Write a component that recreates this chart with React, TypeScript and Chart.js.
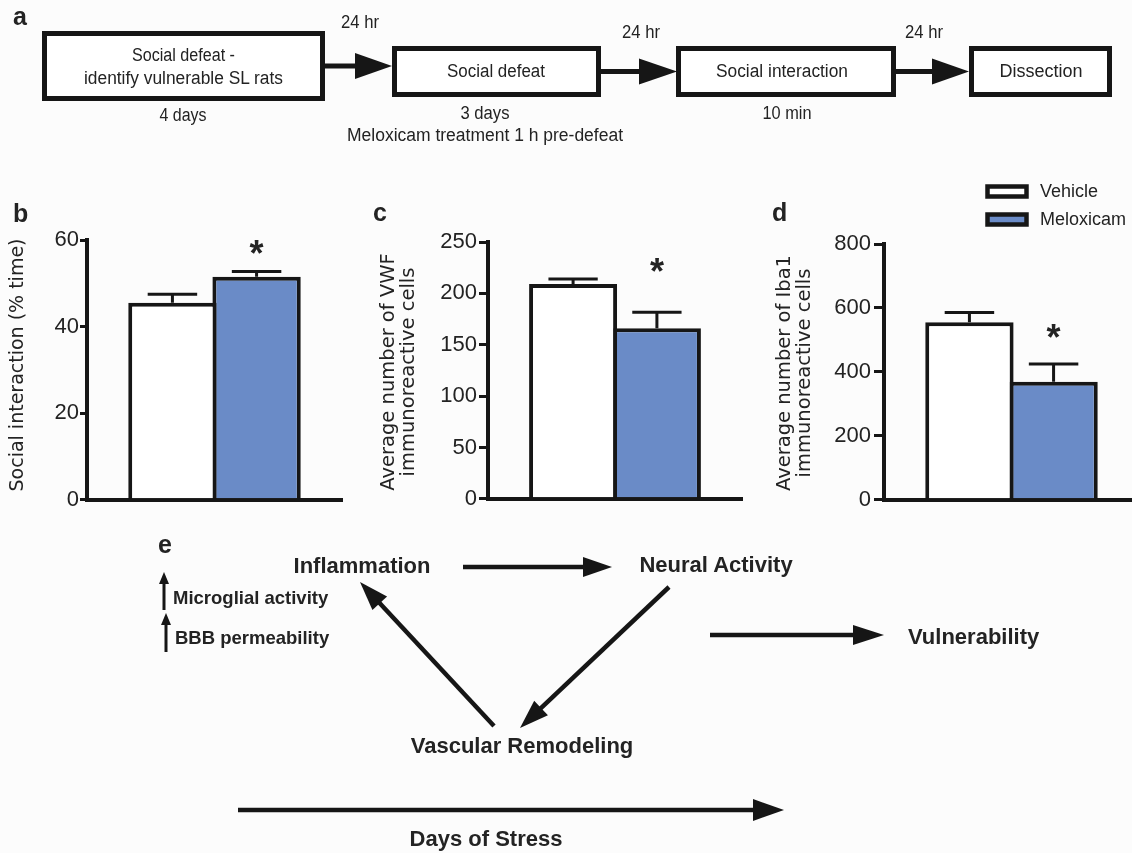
import React, { useEffect, useRef } from 'react';
import { Chart, registerables } from 'chart.js';

Chart.register(...registerables);

// ---------------- data ----------------
const groups = ['Vehicle', 'Meloxicam'];
const groupFills = ['#ffffff', '#6a8bc7'];

const socialMeans = [45.5, 51.5];
const socialSem = [2.0, 1.2];
const socialSig = [false, true];
const socialTicks = [0, 20, 40, 60];
const socialTitle = ['Social interaction (% time)'];

const vwfMeans = [209, 166];
const vwfSem = [5, 15.5];
const vwfSig = [false, true];
const vwfTicks = [0, 50, 100, 150, 200, 250];
const vwfTitle = ['Average number of VWF', 'immunoreactive cells'];

const iba1Means = [555, 369];
const iba1Sem = [31, 56];
const iba1Sig = [false, true];
const iba1Ticks = [0, 200, 400, 600, 800];
const iba1Title = ['Average number of Iba1', 'immunoreactive cells'];

// ---------------- plugins ----------------
const INK = '#161616';
const TEXT = '#232323';

const errorBarPlugin = {
  id: 'errorBars',
  afterDatasetsDraw(chart: any, _args: any, opts: any) {
    const { ctx } = chart;
    const y = chart.scales.y;
    chart.data.datasets.forEach((ds: any, i: number) => {
      const meta = chart.getDatasetMeta(i);
      meta.data.forEach((bar: any, j: number) => {
        const v = ds.data[j];
        const e = ds.errors[j];
        const top = y.getPixelForValue(v + e);
        const half = (bar.width * opts.capRatio) / 2;
        ctx.save();
        ctx.strokeStyle = INK;
        ctx.lineWidth = 3;
        ctx.beginPath();
        ctx.moveTo(bar.x, bar.y);
        ctx.lineTo(bar.x, top);
        ctx.moveTo(bar.x - half, top);
        ctx.lineTo(bar.x + half, top);
        ctx.stroke();
        if (ds.sig[j]) {
          ctx.fillStyle = TEXT;
          ctx.font = 'bold 36px "Liberation Sans", Arial, sans-serif';
          ctx.textAlign = 'center';
          ctx.textBaseline = 'alphabetic';
          const cy = top - opts.starGap;
          ctx.fillText('*', bar.x, cy + 18);
        }
        ctx.restore();
      });
    });
  },
};

const yTitlePlugin = {
  id: 'yTitle',
  afterDraw(chart: any, _args: any, opts: any) {
    const { ctx } = chart;
    ctx.save();
    ctx.font = opts.font;
    ctx.fillStyle = TEXT;
    ctx.textAlign = 'center';
    ctx.textBaseline = 'middle';
    (opts.lines as string[]).forEach((t, i) => {
      ctx.save();
      ctx.translate(opts.xs[i], opts.y);
      ctx.rotate(-Math.PI / 2);
      ctx.fillText(t, 0, 0);
      ctx.restore();
    });
    ctx.restore();
  },
};

type Geom = {
  left: number; top: number; width: number; height: number;
  axisW: number; padTop: number; padRight: number; padBottom: number;
  tickLen: number; tickPad: number;
  titleXs: number[]; titleY: number; titleFont: string; starGap: number;
};

function BarPanel({ means, sems, sig, ticks, title, g }: any) {
  const ref = useRef<HTMLCanvasElement>(null);
  useEffect(() => {
    const geom: Geom = g;
    const chart = new Chart(ref.current as HTMLCanvasElement, {
      type: 'bar',
      data: {
        labels: [''],
        datasets: groups.map((name, i) => ({
          label: name,
          data: [means[i]],
          errors: [sems[i]],
          sig: [sig[i]],
          backgroundColor: groupFills[i],
          borderColor: INK,
          borderWidth: 4,
          barPercentage: 1.05,
          categoryPercentage: 0.66,
        })) as any,
      },
      options: {
        animation: false,
        responsive: false,
        maintainAspectRatio: false,
        layout: { padding: { top: geom.padTop, right: geom.padRight, bottom: geom.padBottom, left: 0 } },
        plugins: {
          legend: { display: false },
          tooltip: { enabled: false },
          errorBars: { capRatio: 0.56, starGap: geom.starGap },
          yTitle: { lines: title, xs: geom.titleXs, y: geom.titleY, font: geom.titleFont },
        } as any,
        scales: {
          x: {
            grid: { display: false },
            ticks: { display: false },
            border: { display: true, color: INK, width: 4 },
            afterFit: (s: any) => { s.height = 0; },
          },
          y: {
            min: ticks[0],
            max: ticks[ticks.length - 1],
            afterBuildTicks: (s: any) => { s.ticks = ticks.map((v: number) => ({ value: v })); },
            ticks: { color: TEXT, padding: geom.tickPad, font: { family: '"Liberation Sans", Arial, sans-serif', size: 22 } },
            grid: { display: true, drawOnChartArea: false, drawTicks: true, tickLength: geom.tickLen, tickWidth: 3, tickColor: INK, lineWidth: 3, color: INK },
            border: { display: true, color: INK, width: 4 },
            afterFit: (s: any) => { s.width = geom.axisW; },
          },
        },
      } as any,
      plugins: [errorBarPlugin, yTitlePlugin],
    });
    return () => chart.destroy();
  }, []);
  return (
    <canvas
      ref={ref}
      width={g.width}
      height={g.height}
      style={{ position: 'absolute', left: g.left, top: g.top, width: g.width, height: g.height, display: 'block' }}
    />
  );
}

function Arrow({ x1, y1, x2, y2, w = 4.5, len = 28, half = 10 }: any) {
  const dx = x2 - x1, dy = y2 - y1;
  const L = Math.hypot(dx, dy);
  const ux = dx / L, uy = dy / L;
  const bx = x2 - ux * len, by = y2 - uy * len;
  const px = -uy, py = ux;
  return (
    <g>
      <line x1={x1} y1={y1} x2={bx + ux * 2} y2={by + uy * 2} stroke={INK} strokeWidth={w} />
      <polygon points={`${x2},${y2} ${bx + px * half},${by + py * half} ${bx - px * half},${by - py * half}`} fill={INK} />
    </g>
  );
}

const SANS = '"Liberation Sans", Arial, Helvetica, sans-serif';

function T({ x, y, children, size = 18, bold = false, anchor = 'middle', len }: any) {
  return (
    <text
      x={x}
      y={y}
      fontFamily={SANS}
      fontSize={size}
      fontWeight={bold ? 'bold' : 'normal'}
      fill={TEXT}
      textAnchor={anchor}
      dominantBaseline="central"
      {...(len ? { textLength: len, lengthAdjust: 'spacingAndGlyphs' } : {})}
    >
      {children}
    </text>
  );
}

export default function App() {
  const gB: Geom = {
    left: 0, top: 200, width: 360, height: 314, axisW: 87, padTop: 40, padRight: 18, padBottom: 14,
    tickLen: 7, tickPad: 1,
    titleXs: [18], titleY: 165, titleFont: '19px "DejaVu Sans", sans-serif', starGap: 24,
  };
  const gC: Geom = {
    left: 360, top: 200, width: 400, height: 314, axisW: 128, padTop: 42, padRight: 18, padBottom: 14,
    tickLen: 9, tickPad: 2,
    titleXs: [29, 49], titleY: 172, titleFont: '19.5px "DejaVu Sans", sans-serif', starGap: 46,
  };
  const gD: Geom = {
    left: 740, top: 200, width: 400, height: 316, axisW: 144, padTop: 44, padRight: 1, padBottom: 14,
    tickLen: 10, tickPad: 3,
    titleXs: [45, 65], titleY: 173, titleFont: '19.5px "DejaVu Sans", sans-serif', starGap: 32,
  };

  return (
    <div style={{ position: 'absolute', left: 0, top: 0, width: 1132, height: 853, overflow: 'hidden', background: '#fcfcfc' }}>
      <BarPanel means={socialMeans} sems={socialSem} sig={socialSig} ticks={socialTicks} title={socialTitle} g={gB} />
      <BarPanel means={vwfMeans} sems={vwfSem} sig={vwfSig} ticks={vwfTicks} title={vwfTitle} g={gC} />
      <BarPanel means={iba1Means} sems={iba1Sem} sig={iba1Sig} ticks={iba1Ticks} title={iba1Title} g={gD} />

      <svg width={1132} height={853} style={{ position: 'absolute', left: 0, top: 0, pointerEvents: 'none' }}>
        {/* panel letters */}
        {[['a', 13, 25], ['b', 13, 222], ['c', 373, 221], ['d', 772, 221], ['e', 158, 553]].map(([l, x, y]: any) => (
          <text key={l} x={x} y={y} fontFamily={SANS} fontSize={25} fontWeight="bold" fill={TEXT}>{l}</text>
        ))}

        {/* panel a: timeline */}
        <rect x={44.5} y={33.5} width={278} height={65} fill="#fff" stroke={INK} strokeWidth={5} />
        <rect x={394.5} y={48.5} width={204} height={46} fill="#fff" stroke={INK} strokeWidth={5} />
        <rect x={678.5} y={48.5} width={215} height={46} fill="#fff" stroke={INK} strokeWidth={5} />
        <rect x={971.5} y={48.5} width={138} height={46} fill="#fff" stroke={INK} strokeWidth={5} />
        <Arrow x1={325} y1={66} x2={392} y2={66} w={5} len={37} half={13} />
        <Arrow x1={601} y1={71.5} x2={677} y2={71.5} w={5} len={38} half={13} />
        <Arrow x1={896} y1={71.5} x2={969} y2={71.5} w={5} len={37} half={13} />

        <T x={183.5} y={55} len={103}>Social defeat -</T>
        <T x={183.5} y={78} len={199}>identify vulnerable SL rats</T>
        <T x={183} y={115} len={47}>4 days</T>
        <T x={360} y={22} len={38}>24 hr</T>
        <T x={496} y={71} len={98}>Social defeat</T>
        <T x={485} y={113} len={49}>3 days</T>
        <T x={485} y={135} len={276}>Meloxicam treatment 1 h pre-defeat</T>
        <T x={641} y={32} len={38}>24 hr</T>
        <T x={782} y={71} len={132}>Social interaction</T>
        <T x={787} y={113} len={49}>10 min</T>
        <T x={924} y={32} len={38}>24 hr</T>
        <T x={1041} y={71} len={83}>Dissection</T>

        {/* legend */}
        {groups.map((name, i) => (
          <g key={name}>
            <rect x={987.5} y={186.5 + i * 28} width={39} height={10} fill={groupFills[i]} stroke={INK} strokeWidth={4.5} />
            <T x={1040} y={191 + i * 28} anchor="start" size={18}>{name}</T>
          </g>
        ))}

        {/* panel e: model */}
        <T x={362} y={565} size={22} bold>Inflammation</T>
        <T x={716} y={564} size={22} bold>Neural Activity</T>
        <T x={522} y={745} size={22} bold>Vascular Remodeling</T>
        <T x={908} y={636} size={22} bold anchor="start">Vulnerability</T>
        <T x={486} y={838} size={22} bold>Days of Stress</T>
        <T x={173} y={597} size={18.5} bold anchor="start">Microglial activity</T>
        <T x={175} y={637} size={18.5} bold anchor="start">BBB permeability</T>

        <Arrow x1={164} y1={610} x2={164} y2={572} w={3} len={12} half={5} />
        <Arrow x1={166} y1={652} x2={166} y2={613} w={3} len={12} half={5} />
        <Arrow x1={463} y1={567} x2={612} y2={567} w={4.5} len={29} half={10} />
        <Arrow x1={494} y1={726} x2={360} y2={582} w={4.5} len={29} half={10} />
        <Arrow x1={669} y1={587} x2={520} y2={728} w={4.5} len={29} half={10} />
        <Arrow x1={710} y1={635} x2={884} y2={635} w={4.5} len={31} half={10} />
        <Arrow x1={238} y1={810} x2={784} y2={810} w={4.5} len={31} half={11} />
      </svg>
    </div>
  );
}
